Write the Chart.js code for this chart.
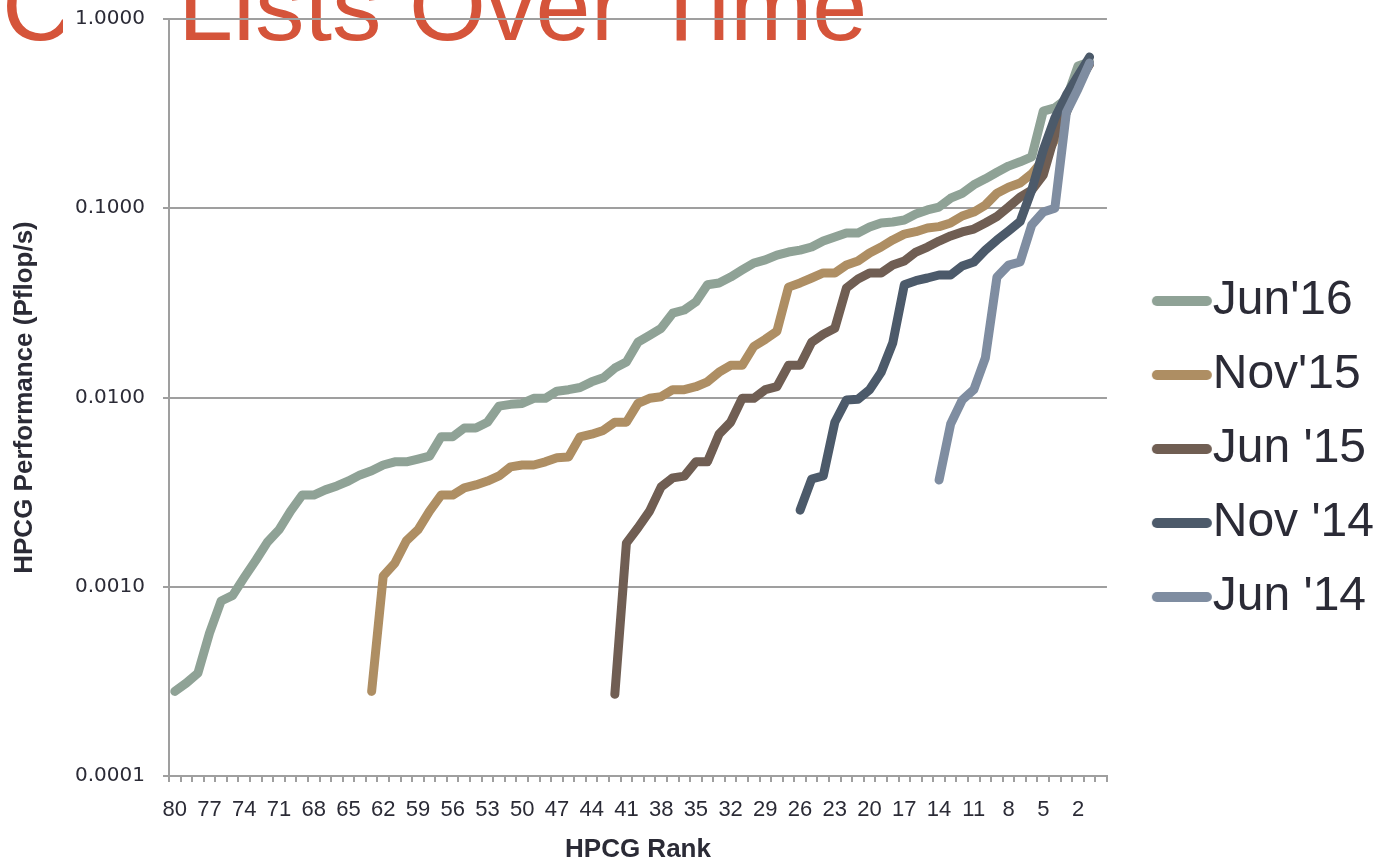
<!DOCTYPE html>
<html>
<head>
<meta charset="utf-8">
<script src="https://cdn.jsdelivr.net/npm/chart.js@4.4.1/dist/chart.umd.min.js"></script>
<style>
  html, body { margin: 0; padding: 0; background: #ffffff; }
  #wrap { position: relative; width: 1375px; height: 861px; }
</style>
</head>
<body>
<div id="wrap"><canvas id="chart" width="1375" height="861"></canvas></div>
<script>
// HPCG rank, 80 on the left down to 1 on the right (one empty slot after rank 1)
const ranks = ['80','79','78','77','76','75','74','73','72','71','70','69','68','67','66','65','64','63','62','61',
               '60','59','58','57','56','55','54','53','52','51','50','49','48','47','46','45','44','43','42','41',
               '40','39','38','37','36','35','34','33','32','31','30','29','28','27','26','25','24','23','22','21',
               '20','19','18','17','16','15','14','13','12','11','10','9','8','7','6','5','4','3','2','1',''];

// HPCG performance (Pflop/s), listed from the lowest rank a list reaches up to rank 1
const jun16 = [0.00028, 0.00031, 0.00035, 0.00057, 0.00084, 0.0009, 0.00112, 0.00138, 0.00172, 0.0020,
               0.00251, 0.00305, 0.00305, 0.00325, 0.00341, 0.00362, 0.0039, 0.0041, 0.0044, 0.00457,
               0.00457, 0.00473, 0.0049, 0.0062, 0.0062, 0.0069, 0.0069, 0.0074, 0.0090, 0.0092,
               0.0093, 0.0099, 0.0099, 0.0108, 0.0110, 0.0113, 0.0121, 0.0127, 0.0143, 0.0154,
               0.0196, 0.0213, 0.0232, 0.0279, 0.0290, 0.0320, 0.0394, 0.0403, 0.0433, 0.0472,
               0.0513, 0.0533, 0.0566, 0.0587, 0.0601, 0.0624, 0.0671, 0.0704, 0.074, 0.074,
               0.0796, 0.0836, 0.0846, 0.0867, 0.0932, 0.098, 0.1015, 0.113, 0.120, 0.133,
               0.143, 0.155, 0.167, 0.176, 0.187, 0.326, 0.339, 0.378, 0.565, 0.592];
const nov15 = [0.00028, 0.00114, 0.00133, 0.00175, 0.0020, 0.00251, 0.00305, 0.00305, 0.00333, 0.00345,
               0.00362, 0.00385, 0.0043, 0.0044, 0.0044, 0.00457, 0.0048, 0.00485, 0.0062, 0.0064,
               0.0067, 0.0074, 0.0074, 0.0093, 0.0099, 0.0101, 0.011, 0.011, 0.0114, 0.0121,
               0.0136, 0.0148, 0.0148, 0.0186, 0.0203, 0.0224, 0.0383, 0.0403, 0.0428, 0.0455,
               0.0455, 0.0501, 0.0526, 0.058, 0.0624, 0.068, 0.073, 0.0752, 0.0786, 0.080,
               0.0836, 0.091, 0.0955, 0.104, 0.120, 0.129, 0.136, 0.152, 0.18, 0.23,
               0.322, 0.459, 0.578];
const jun15 = [0.00027, 0.0017, 0.00205, 0.00251, 0.00337, 0.00376, 0.00384, 0.00457, 0.00457, 0.0064,
               0.0074, 0.0099, 0.0099, 0.011, 0.0114, 0.0148, 0.0148, 0.0196, 0.0216, 0.0232,
               0.0379, 0.0423, 0.0455, 0.0455, 0.0501, 0.0526, 0.0587, 0.0624, 0.0671, 0.0714,
               0.075, 0.0776, 0.0836, 0.0905, 0.1015, 0.1146, 0.1246, 0.150, 0.244, 0.322,
               0.459, 0.578];
const nov14 = [0.00254, 0.00371, 0.00385, 0.0074, 0.0097, 0.0098, 0.011, 0.0136, 0.0194, 0.0394,
               0.0414, 0.0428, 0.0444, 0.0444, 0.0495, 0.052, 0.0601, 0.0679, 0.0758, 0.085,
               0.1246, 0.203, 0.30, 0.397, 0.50, 0.63];
const jun14 = [0.00366, 0.00724, 0.0097, 0.011, 0.0162, 0.0433, 0.0501, 0.052, 0.0815, 0.0955,
               0.1, 0.322, 0.427, 0.585];

const seriesNames = ["Jun'16", "Nov'15", "Jun '15", "Nov '14", "Jun '14"];
const seriesColors = ['#8fa296', '#ae8e63', '#705e53', '#4c5a6a', '#7f8da1'];
const yTicks = [0.0001, 0.001, 0.01, 0.1, 1];
const titleText = 'HPCG Lists Over Time';

// lists start at different ranks: pad the left side with gaps
function alignRight(values) {
  return new Array(80 - values.length).fill(null).concat(values);
}

// thick rounded line used as the legend marker (drawn a bit right of the marker slot)
function legendSwatch(color) {
  const cv = document.createElement('canvas');
  cv.width = 120;
  cv.height = 12;
  const g = cv.getContext('2d');
  g.strokeStyle = color;
  g.lineWidth = 10;
  g.lineCap = 'round';
  g.beginPath();
  g.moveTo(56, 6);
  g.lineTo(106, 6);
  g.stroke();
  return cv;
}

const textColor = '#2b2b36';
const gridColor = '#9f9f9f';

// slide title sits behind the chart and is partly hidden by it
const slideTitle = {
  id: 'slideTitle',
  beforeDraw(chart) {
    const c = chart.ctx;
    c.save();
    c.font = '99px "Liberation Sans", Arial, sans-serif';
    c.fillStyle = '#d5543a';
    c.textBaseline = 'alphabetic';
    const x = 178 - c.measureText('HPCG ').width;
    c.fillText(titleText, x, 40);
    c.fillStyle = '#ffffff';
    c.fillRect(63, 0, chart.chartArea.left - 64, 46);
    c.restore();
  }
};

const allSeries = [jun16, nov15, jun15, nov14, jun14];

new Chart(document.getElementById('chart'), {
  type: 'line',
  data: {
    labels: ranks,
    datasets: allSeries.map((vals, i) => ({
      label: seriesNames[i],
      data: alignRight(vals),
      borderColor: seriesColors[i],
      backgroundColor: seriesColors[i],
      borderWidth: 9,
      borderCapStyle: 'round',
      borderJoinStyle: 'round',
      pointRadius: 0,
      pointHoverRadius: 0,
      pointStyle: legendSwatch(seriesColors[i]),
      tension: 0,
      order: allSeries.length - i
    }))
  },
  options: {
    responsive: false,
    animation: false,
    devicePixelRatio: 1,
    layout: { padding: { top: 19, right: -9, bottom: 0, left: 0 } },
    plugins: {
      tooltip: { enabled: false },
      legend: {
        position: 'right',
        reverse: true,
        title: { display: true, text: ' ', padding: 0, font: { size: 15, lineHeight: 1.2 } },
        labels: {
          color: textColor,
          font: { family: '"Liberation Sans", Arial, sans-serif', size: 48 },
          usePointStyle: true,
          pointStyleWidth: 55.8,
          padding: 26
        }
      }
    },
    scales: {
      x: {
        type: 'category',
        offset: true,
        afterFit(scale) { scale.height = 85; },
        grid: {
          offset: true,
          drawOnChartArea: false,
          drawTicks: true,
          tickLength: 6,
          color: gridColor,
          lineWidth: 2
        },
        border: { color: gridColor, width: 2 },
        ticks: {
          autoSkip: false,
          maxRotation: 0,
          minRotation: 0,
          padding: 15,
          color: textColor,
          font: { family: '"Liberation Sans", Arial, sans-serif', size: 22 },
          callback(value, index) { return index % 3 === 0 ? ranks[index] : ''; }
        },
        title: {
          display: true,
          text: 'HPCG Rank',
          color: textColor,
          font: { family: '"Liberation Sans", Arial, sans-serif', size: 26, weight: 'bold', lineHeight: 0.85 },
          padding: 0
        }
      },
      y: {
        type: 'logarithmic',
        min: yTicks[0],
        max: yTicks[yTicks.length - 1],
        afterFit(scale) {
          scale.width = 169;
          scale.paddingTop = 0;
          scale.paddingBottom = 0;
        },
        afterBuildTicks(scale) { scale.ticks = yTicks.map(v => ({ value: v })); },
        grid: {
          color: gridColor,
          lineWidth: 2,
          drawTicks: true,
          tickLength: 6
        },
        border: { color: gridColor, width: 2 },
        ticks: {
          padding: 18,
          color: textColor,
          font: { family: '"DejaVu Sans", sans-serif', size: 20 },
          callback(value) { return Number(value).toFixed(4); }
        },
        title: {
          display: true,
          text: 'HPCG Performance (Pflop/s)',
          color: textColor,
          font: { family: '"Liberation Sans", Arial, sans-serif', size: 26, weight: 'bold', lineHeight: 1 },
          padding: { top: 12, bottom: 0 }
        }
      }
    }
  },
  plugins: [slideTitle]
});
</script>
</body>
</html>
